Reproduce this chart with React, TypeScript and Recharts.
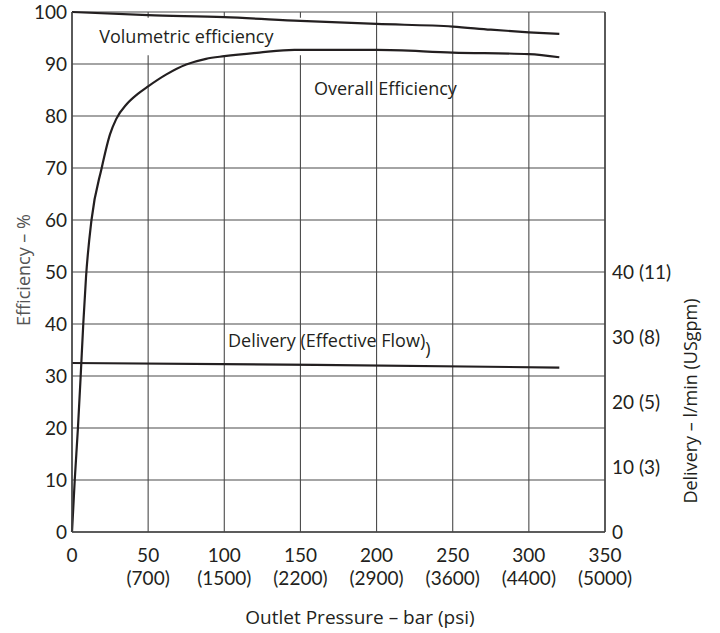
import React from "react";
import { CartesianGrid, Line, LineChart, ReferenceArea, XAxis, YAxis } from "recharts";

// Pump performance: efficiency (left, %) and delivery (right, l/min) vs outlet pressure (bar)
const pressureTicks = [0, 50, 100, 150, 200, 250, 300, 350];
const psiLabels = ["", "(700)", "(1500)", "(2200)", "(2900)", "(3600)", "(4400)", "(5000)"];
const effTicks = [0, 10, 20, 30, 40, 50, 60, 70, 80, 90, 100];
const flowTicks = [0, 10, 20, 30, 40];
const usgpmLabels = ["", "(3)", "(5)", "(8)", "(11)"];

const volPressure = [0, 50, 100, 150, 200, 250, 275, 300, 320];
const volEff = [100, 99.4, 99.0, 98.3, 97.7, 97.2, 96.6, 96.1, 95.8];

const overallPressure = [0, 1.8, 3.9, 5.7, 7.4, 9.2, 12.8, 19.5, 25, 29, 36, 43, 50, 62, 75, 88, 100, 123, 146, 200, 250, 300, 320];
const overallEff = [0, 10, 20, 30, 40, 49, 60, 70, 76.5, 79.4, 82.3, 84.2, 85.7, 88.0, 89.9, 91.0, 91.5, 92.2, 92.7, 92.7, 92.2, 91.9, 91.3];

const deliveryPressure = [0, 160, 320];
const deliveryFlow = [26, 25.7, 25.3];

const rows = (xs: number[], ys: number[]) => xs.map((x, i) => ({ x, y: ys[i] }));

const FONT = "'Open Sans', 'Noto Sans', sans-serif";
const TICK_FONT = "Lato, 'Open Sans', sans-serif";
const INK = "#231f20";
const GRID = "#4a4a4a";

function PressureTick({ x, y, payload }: any) {
  const i = pressureTicks.indexOf(payload.value);
  return (
    <g>
      <text x={x} y={y + 28} textAnchor="middle" fontFamily={TICK_FONT} fontSize={19} fill={INK}>
        {payload.value}
      </text>
      {psiLabels[i] && (
        <text x={x} y={y + 51} textAnchor="middle" fontFamily={TICK_FONT} fontSize={19} fill={INK}>
          {psiLabels[i]}
        </text>
      )}
    </g>
  );
}

function FlowTick({ x, y, payload }: any) {
  const i = flowTicks.indexOf(payload.value);
  const extra = usgpmLabels[i];
  return (
    <text x={x} y={y} dy="0.355em" textAnchor="start" fontFamily={TICK_FONT} fontSize={19} fill={INK}>
      {extra ? `${payload.value} ${extra}` : payload.value}
    </text>
  );
}

function VolLabel({ viewBox }: any) {
  return (
    <text x={viewBox.x + 9} y={43} fontFamily={FONT} fontSize={18} fill={INK}>
      Volumetric efficiency
    </text>
  );
}

export default function App() {
  return (
    <div style={{ position: "absolute", left: 0, top: 0, width: 720, height: 633, background: "#fff" }}>
      <LineChart width={720} height={633} margin={{ top: 12, right: 0, bottom: 0, left: 0 }}>
        <CartesianGrid yAxisId="left" stroke={GRID} strokeWidth={1.1} />
        <XAxis
          dataKey="x"
          type="number"
          domain={[0, 350]}
          ticks={pressureTicks}
          height={101}
          tickLine={false}
          tickSize={0}
          axisLine={{ stroke: "#444", strokeWidth: 1.5 }}
          tick={<PressureTick />}
          interval={0}
        />
        <YAxis
          yAxisId="left"
          type="number"
          domain={[0, 100]}
          ticks={effTicks}
          width={72}
          tickLine={false}
          tickSize={0}
          tickMargin={5}
          axisLine={{ stroke: "#444", strokeWidth: 1.5 }}
          tick={{ fontFamily: TICK_FONT, fontSize: 19, fill: INK }}
          interval={0}
        />
        <YAxis
          yAxisId="right"
          orientation="right"
          type="number"
          domain={[0, 80]}
          ticks={flowTicks}
          width={115}
          tickLine={false}
          tickSize={0}
          tickMargin={7}
          axisLine={{ stroke: "#444", strokeWidth: 1.5 }}
          tick={<FlowTick />}
          interval={0}
        />
        <ReferenceArea
          yAxisId="left"
          x1={12}
          x2={153}
          y1={91.7}
          y2={98.9}
          fill="#fff"
          fillOpacity={1}
          stroke="none"
          label={<VolLabel />}
        />
        <Line yAxisId="left" data={rows(volPressure, volEff)} dataKey="y" type="monotone" stroke={INK} strokeWidth={2.2} dot={false} isAnimationActive={false} />
        <Line yAxisId="left" data={rows(overallPressure, overallEff)} dataKey="y" type="monotone" stroke={INK} strokeWidth={2.2} dot={false} isAnimationActive={false} />
        <Line yAxisId="right" data={rows(deliveryPressure, deliveryFlow)} dataKey="y" type="monotone" stroke={INK} strokeWidth={2.2} dot={false} isAnimationActive={false} />

        <text x={314} y={95} fontFamily={FONT} fontSize={18} fill={INK}>Overall Efficiency</text>
        <text x={228} y={347} fontFamily={FONT} fontSize={18} fill={INK}>
          Delivery (Effective Flow)<tspan dy={8}>)</tspan>
        </text>
        <text x={23} y={270} transform="rotate(-90 23 270)" textAnchor="middle" dominantBaseline="central" fontFamily={FONT} fontSize={18} fill="#555">
          Efficiency – %
        </text>
        <text x={690} y={401} transform="rotate(-90 690 401)" textAnchor="middle" dominantBaseline="central" fontFamily={FONT} fontSize={18} fill={INK}>
          Delivery – l/min (USgpm)
        </text>
        <text x={360} y={624} textAnchor="middle" fontFamily={FONT} fontSize={19} fill={INK}>
          Outlet Pressure – bar (psi)
        </text>
      </LineChart>
    </div>
  );
}
